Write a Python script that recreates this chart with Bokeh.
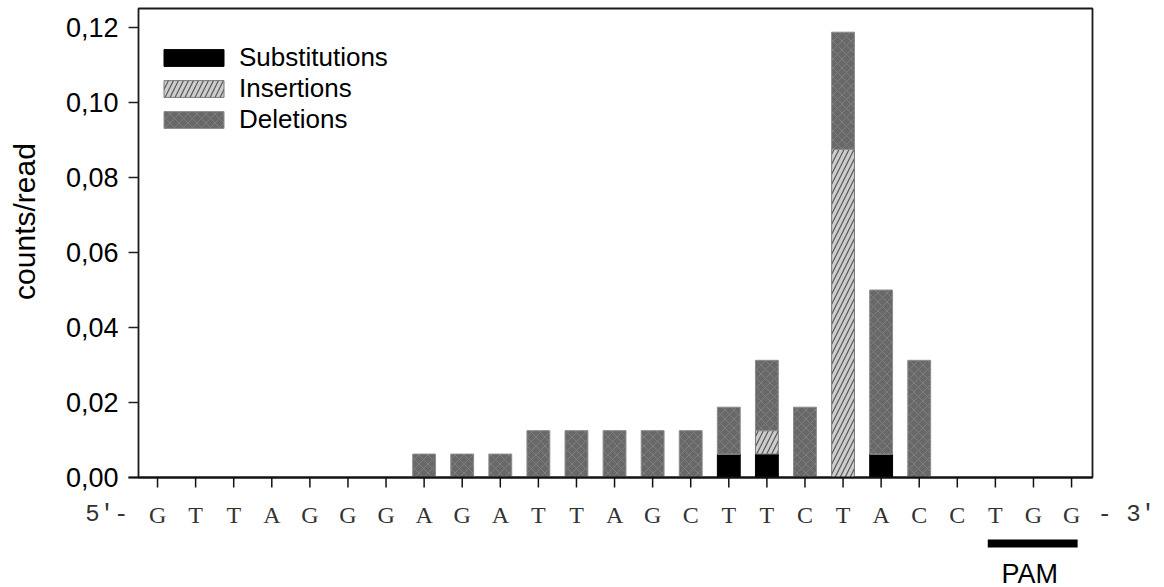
import math
from bokeh.plotting import figure
from bokeh.models import (FixedTicker, CustomJSTickFormatter, Legend, LegendItem,
                          ColumnDataSource, Range1d)
from bokeh.embed import file_html
from bokeh.resources import INLINE

# ---- data ----
sequence = ["G", "T", "T", "A", "G", "G", "G", "A", "G", "A", "T", "T", "A",
            "G", "C", "T", "T", "C", "T", "A", "C", "C", "T", "G", "G"]
positions = list(range(len(sequence)))
substitutions = [0, 0, 0, 0, 0, 0, 0, 0, 0, 0, 0, 0, 0,
                 0, 0, 0.00625, 0.00625, 0, 0, 0.00625, 0, 0, 0, 0, 0]
insertions = [0, 0, 0, 0, 0, 0, 0, 0, 0, 0, 0, 0, 0,
              0, 0, 0, 0.00625, 0, 0.0875, 0, 0, 0, 0, 0, 0]
deletions = [0, 0, 0, 0, 0, 0, 0, 0.00625, 0.00625, 0.00625, 0.0125, 0.0125, 0.0125,
             0.0125, 0.0125, 0.0125, 0.01875, 0.01875, 0.03125, 0.04375, 0.03125, 0, 0, 0, 0]
y_ticks = [0.0, 0.02, 0.04, 0.06, 0.08, 0.10, 0.12]
y_label = "counts/read"
end_labels = ["5'-", "- 3'"]
pam_positions = [22, 24]
pam_label = "PAM"

SANS = "Liberation Sans"
SERIF = "Liberation Serif"
MONO = "Liberation Mono"

# ---- layout constants (pixels) ----
W, H = 1164, 587
FRAME_L, FRAME_R = 138, 1092
TOP, BOTTOM_MAIN = 8, 18
FRAME_H = 469
OVERLAP = 20
X0, X1 = -0.5, 24.55
PX = (FRAME_R - FRAME_L) / (X1 - X0)

source = ColumnDataSource(dict(x=positions, sub=substitutions, ins=insertions, dele=deletions))

p = figure(width=W, height=TOP + FRAME_H + BOTTOM_MAIN, output_backend="svg", toolbar_location=None,
           x_range=Range1d(X0, X1), y_range=Range1d(0, 0.12507), x_axis_type=None,
           min_border_left=FRAME_L, min_border_right=W - FRAME_R,
           min_border_top=TOP, min_border_bottom=BOTTOM_MAIN)
p.grid.visible = False
p.outline_line_color = "#1a1a1a"
p.outline_line_width = 1.8

renderers = p.vbar_stack(
    ["sub", "ins", "dele"], x="x", width=0.6, source=source,
    fill_color=["#000000", "#cdcdcd", "#686868"],
    line_color=["#000000", "#7a7a7a", "#8c8c8c"],
    line_width=1,
    hatch_pattern=[" ", "/", "x"],
    hatch_color=["#000000", "#555555", "#7e7e7e"],
    hatch_scale=[8, 10, 9],
    hatch_weight=[1, 1.2, 1],
)

legend = Legend(items=[LegendItem(label="Substitutions", renderers=[renderers[0]]),
                       LegendItem(label="Insertions", renderers=[renderers[1]]),
                       LegendItem(label="Deletions", renderers=[renderers[2]])],
                location=(18, 342), margin=0, padding=0,
                glyph_width=75, glyph_height=21, label_standoff=8, spacing=-2, label_height=29,
                label_text_font=SANS, label_text_font_size="26px", label_text_color="black",
                background_fill_alpha=0, border_line_alpha=0)
p.add_layout(legend)

# y axis
yax = p.yaxis[0]
yax.ticker = FixedTicker(ticks=y_ticks)
yax.formatter = CustomJSTickFormatter(code="return tick.toFixed(2).replace('.', ',');")
yax.minor_tick_line_color = None
yax.major_tick_out = 10
yax.major_tick_in = 0
yax.major_tick_line_width = 1.5
yax.major_tick_line_color = "#222222"
yax.axis_line_color = None
yax.major_label_text_font = SANS
yax.major_label_text_font_size = "27px"
yax.major_label_text_color = "black"
yax.major_label_standoff = 10

# ---- lower strip: axis line, ticks, sequence, 5'/3' ends, PAM ----
# (transparent, shifted up so that it overlaps the main figure's bottom border)
Q_TOP = TOP + FRAME_H + BOTTOM_MAIN - OVERLAP
H2 = H - Q_TOP
AX_Y = TOP + FRAME_H - Q_TOP  # axis position inside the strip
q = figure(width=W, height=H2, output_backend="svg", toolbar_location=None,
           x_range=Range1d(X0 - FRAME_L / PX, X1 + (W - FRAME_R) / PX),
           y_range=Range1d(H2, 0), x_axis_type=None, y_axis_type=None,
           min_border=0, outline_line_color=None,
           styles={"margin-top": f"-{OVERLAP}px"})
q.grid.visible = False
q.background_fill_alpha = 0
q.border_fill_alpha = 0

q.segment(x0=[X0 - 10 / PX], x1=[X1], y0=[AX_Y], y1=[AX_Y], line_width=2, line_color="#111111")
q.segment(x0=positions, x1=positions, y0=[AX_Y] * len(positions), y1=[AX_Y + 10] * len(positions),
          line_width=1.5, line_color="#111111")

seq_src = ColumnDataSource(dict(x=positions, y=[AX_Y + 37] * len(sequence), t=sequence))
q.text(x="x", y="y", text="t", source=seq_src, text_align="center", text_baseline="middle",
       text_font={"value": SERIF}, text_font_size="24px", text_color="#333333")
q.text(x=[X0 - 10 / PX], y=[AX_Y + 37], text=[end_labels[0]], text_align="right", text_baseline="middle",
       text_font={"value": MONO}, text_font_size="24px", text_color="#333333")
q.text(x=[X1 + 5 / PX], y=[AX_Y + 37], text=[end_labels[1]], text_align="left", text_baseline="middle",
       text_font={"value": MONO}, text_font_size="24px", text_color="#333333")

q.segment(x0=[pam_positions[0] - 0.2], x1=[pam_positions[1] + 0.16], y0=[AX_Y + 66], y1=[AX_Y + 66],
          line_width=8, line_color="black")
q.text(x=[(pam_positions[0] + pam_positions[1]) / 2 - 0.1], y=[AX_Y + 96], text=[pam_label],
       text_align="center", text_baseline="middle",
       text_font={"value": SANS}, text_font_size="27px", text_color="black")

# ---- y-axis title: a transparent overlay at the page's top-left ----
RW = 50
r = figure(width=RW, height=H, output_backend="svg", toolbar_location=None,
           x_range=Range1d(0, RW), y_range=Range1d(H, 0), x_axis_type=None, y_axis_type=None,
           min_border=0, outline_line_color=None,
           styles={"position": "absolute", "left": "0px", "top": "0px"})
r.grid.visible = False
r.background_fill_alpha = 0
r.border_fill_alpha = 0
r.text(x=[24], y=[221], text=[y_label], angle=math.pi / 2, text_align="center",
       text_baseline="middle", text_font={"value": SANS}, text_font_size="30px",
       text_color="black")

open("out.html", "w").write(file_html([p, q, r], INLINE))
